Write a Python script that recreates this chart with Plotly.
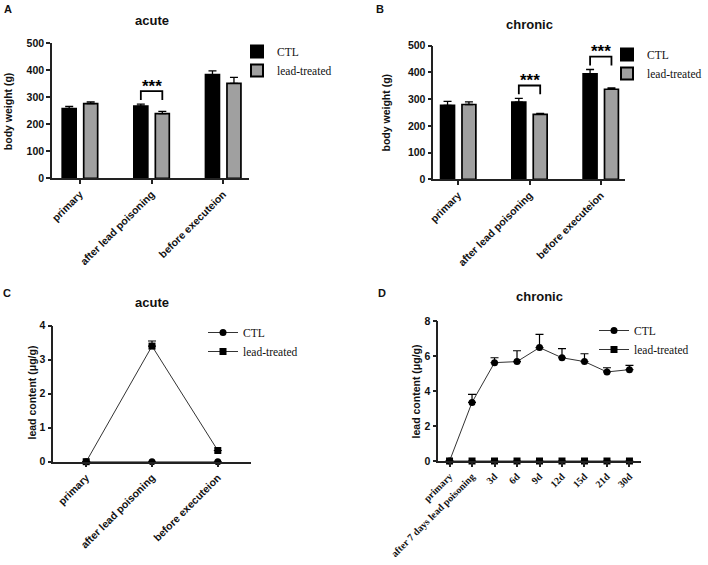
import plotly.graph_objects as go

# body weight (g), bars
groups = ["primary", "after lead poisoning", "before executeion"]
acute_ctl_bw = [258, 267, 383]
acute_ctl_bw_err = [8, 7, 14]
acute_lead_bw = [276, 239, 351]
acute_lead_bw_err = [6, 8, 22]
chronic_ctl_bw = [277, 289, 395]
chronic_ctl_bw_err = [15, 14, 16]
chronic_lead_bw = [280, 243, 337]
chronic_lead_bw_err = [10, 4, 5]
acute_sig = [1]          # group index with ***
chronic_sig = [1, 2]

# lead content (ug/g), lines
acute_ctl_pb = [0, 0, 0]
acute_ctl_pb_err = [0, 0, 0]
acute_lead_pb = [0, 3.40, 0.33]
acute_lead_pb_err = [0, 0.15, 0]
days = ["primary", "after 7 days lead poisoning", "3d", "6d", "9d", "12d", "15d", "21d", "30d"]
chronic_ctl_pb = [0, 3.35, 5.62, 5.68, 6.48, 5.90, 5.68, 5.09, 5.22]
chronic_ctl_pb_err = [0, 0.46, 0.28, 0.62, 0.76, 0.52, 0.45, 0.24, 0.25]
chronic_lead_pb = [0, 0, 0, 0, 0, 0, 0, 0, 0]
chronic_lead_pb_err = [0, 0, 0, 0, 0, 0, 0, 0, 0]

W, H = 708, 565
SANS = "Liberation Sans, Arial"
SERIF = "Liberation Serif, Times New Roman"
GREY = "#a0a0a0"


def px_x(a, b):
    return [a / W, b / W]


def px_y(top, bottom):
    return [1 - bottom / H, 1 - top / H]


fig = go.Figure()


def add_bars(n, ctl, ctl_err, lead, lead_err):
    xa, ya = ("x" if n == 1 else f"x{n}"), ("y" if n == 1 else f"y{n}")
    lg = "legend" if n == 1 else f"legend{n}"
    for name, vals, err, col in [("CTL", ctl, ctl_err, "black"), ("lead-treated", lead, lead_err, GREY)]:
        fig.add_trace(go.Bar(
            x=groups, y=vals, name=name, xaxis=xa, yaxis=ya, legend=lg,
            marker=dict(color=col, line=dict(color="black", width=1.7)),
            error_y=dict(type="data", array=err, arrayminus=[0] * len(err), symmetric=False,
                         color="black", thickness=1.3, width=4),
        ))


def add_lines(n, cats, ctl, ctl_err, lead, lead_err):
    xa, ya = f"x{n}", f"y{n}"
    lg = f"legend{n}"
    for name, vals, err, sym in [("CTL", ctl, ctl_err, "circle"), ("lead-treated", lead, lead_err, "square")]:
        fig.add_trace(go.Scatter(
            x=cats, y=vals, name=name, xaxis=xa, yaxis=ya, legend=lg, mode="lines+markers",
            cliponaxis=False,
            line=dict(color="#333", width=1),
            marker=dict(symbol=sym, size=7, color="black"),
            error_y=dict(type="data", array=err, arrayminus=[0] * len(err), symmetric=False,
                         color="black", thickness=1.2, width=4),
        ))


add_bars(1, acute_ctl_bw, acute_ctl_bw_err, acute_lead_bw, acute_lead_bw_err)
add_bars(2, chronic_ctl_bw, chronic_ctl_bw_err, chronic_lead_bw, chronic_lead_bw_err)
add_lines(3, groups, acute_ctl_pb, acute_ctl_pb_err, acute_lead_pb, acute_lead_pb_err)
add_lines(4, days, chronic_ctl_pb, chronic_ctl_pb_err, chronic_lead_pb, chronic_lead_pb_err)

axis_common = dict(showline=True, linecolor="#222", linewidth=1.5, ticks="outside", ticklen=4,
                   tickwidth=1.5, tickcolor="#222", showgrid=False, zeroline=False, automargin=False)
xtick_font = dict(family=SANS, size=10.5, color="#111", weight="bold")
ytick_font = dict(family=SANS, size=10.5, color="#111", weight="bold")

fig.update_layout(
    width=W, height=H, margin=dict(l=0, r=0, t=0, b=0),
    paper_bgcolor="white", plot_bgcolor="white",
    barmode="group", bargap=0.4, bargroupgap=0.35,
    xaxis=dict(domain=px_x(52, 249), range=[-0.39, 2.36], anchor="y", tickangle=-45,
               tickfont=xtick_font, **axis_common),
    yaxis=dict(domain=px_y(43, 178.3), range=[0, 500], anchor="x", dtick=100,
               tickfont=ytick_font, **axis_common),
    xaxis2=dict(domain=px_x(433.3, 625), range=[-0.35, 2.34], anchor="y2", tickangle=-45,
                tickfont=xtick_font, **axis_common),
    yaxis2=dict(domain=px_y(45.7, 179.3), range=[0, 500], anchor="x2", dtick=100,
                tickfont=ytick_font, **axis_common),
    xaxis3=dict(domain=px_x(53.3, 250.7), range=[-0.5, 2.5], anchor="y3", tickangle=-45,
                tickfont=xtick_font, **axis_common),
    yaxis3=dict(domain=px_y(325.7, 461.7), range=[0, 4], anchor="x3", dtick=1,
                tickfont=ytick_font, **axis_common),
    xaxis4=dict(domain=px_x(438.3, 640.7), range=[-0.5, 8.5], anchor="y4", tickangle=-45,
                tickfont=dict(family=SERIF, size=10, color="#111", weight="bold"), **axis_common),
    yaxis4=dict(domain=px_y(321, 461), range=[0, 8], anchor="x4", dtick=2,
                tickfont=ytick_font, **axis_common),
    showlegend=True,
)

leg_font = dict(family=SERIF, size=11.5, color="#111")
for key, lx, ly, sizing in [("legend", 237, 37, "constant"), ("legend2", 607, 40, "constant"),
                            ("legend3", 203, 318, "trace"), ("legend4", 594, 316, "trace")]:
    fig.update_layout({key: dict(x=lx / W, y=1 - ly / H, xanchor="left", yanchor="top",
                                 bgcolor="rgba(0,0,0,0)", font=leg_font, tracegroupgap=0,
                                 itemsizing=sizing)})

# significance brackets
def add_sig(n, ctl, ctl_err, lead, lead_err, sig):
    xa, ya = ("x" if n == 1 else f"x{n}"), ("y" if n == 1 else f"y{n}")
    for g in sig:
        top = max(ctl[g] + ctl_err[g], lead[g] + lead_err[g])
        lo, hi = top + 15, top + 48
        fig.add_shape(type="path", xref=xa, yref=ya,
                      path=f"M {g - 0.15},{lo} L {g - 0.15},{hi} L {g + 0.15},{hi} L {g + 0.15},{lo}",
                      line=dict(color="black", width=1.8))
        fig.add_annotation(x=g, y=hi + 18, xref=xa, yref=ya, text="***", showarrow=False,
                           font=dict(family=SANS, size=17, color="black", weight="bold"),
                           yanchor="middle")


add_sig(1, acute_ctl_bw, acute_ctl_bw_err, acute_lead_bw, acute_lead_bw_err, acute_sig)
add_sig(2, chronic_ctl_bw, chronic_ctl_bw_err, chronic_lead_bw, chronic_lead_bw_err, chronic_sig)

# titles, panel letters, axis titles
texts = [
    ("acute", 151.7, 20.7, 13, 0), ("chronic", 529, 24, 13, 0),
    ("acute", 151.7, 302.7, 13, 0), ("chronic", 539.7, 296.7, 13, 0),
    ("A", 8, 9, 11, 0), ("B", 380, 9, 11, 0), ("C", 7, 293, 11, 0), ("D", 382, 293, 11, 0),
    ("body weight (g)", 7.5, 111.7, 10.5, -90), ("body weight (g)", 386, 112.5, 10.5, -90),
    ("lead content (μg/g)", 31, 392.5, 10.5, -90), ("lead content (μg/g)", 415.7, 391.7, 10.5, -90),
]
for t, x, y, s, ang in texts:
    fig.add_annotation(x=x / W, y=1 - y / H, xref="paper", yref="paper", text=t, showarrow=False,
                       xanchor="center", yanchor="middle", textangle=ang,
                       font=dict(family=SANS, size=s, color="#111", weight="bold"))

# drop the page's default body margin so the figure sits at the window's top-left
fig.write_html("out.html", config={"displayModeBar": False},
               post_script="document.body.style.margin='0';")
